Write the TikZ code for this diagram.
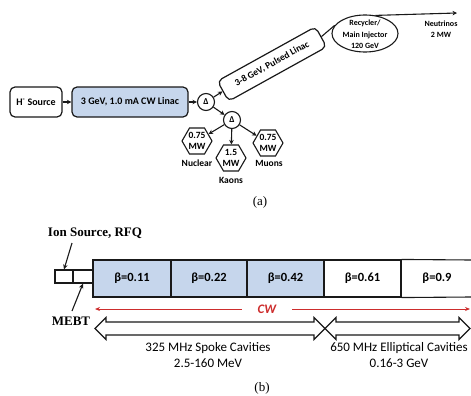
\documentclass[tikz,border=0pt]{standalone}
\usepackage{fontspec}
\setmainfont{Carlito}
\newfontfamily\tnr{Liberation Serif}
\usetikzlibrary{shapes.geometric,arrows.meta}
\definecolor{lblue}{RGB}{198,214,236}
\definecolor{cwred}{RGB}{205,45,45}
\definecolor{ink}{RGB}{25,25,25}
\begin{document}
\begin{tikzpicture}[x=1pt,y=-1pt,
  box/.style={draw=ink,line width=1.2pt,rounded corners=5pt,minimum height=30pt,inner sep=0pt,font=\fontsize{10}{12}\selectfont\bfseries},
  arr/.style={draw=ink,line width=1.1pt,-{Stealth[length=4.5pt,width=4.5pt]}},
  dnode/.style={circle,draw=ink,line width=1.1pt,minimum size=17pt,inner sep=0pt,font=\fontsize{9}{10}\selectfont\bfseries},
  hexa/.style={regular polygon,regular polygon sides=6,draw=ink,line width=1.1pt,minimum size=30pt,inner sep=0pt},
  lbl/.style={align=center,inner sep=0pt,font=\fontsize{9.5}{11}\selectfont\bfseries},
  small/.style={align=center,inner sep=0pt,font=\fontsize{8}{11.5}\selectfont\bfseries},
  cell/.style={draw=ink,line width=1.1pt,minimum height=37pt,inner sep=0pt,font=\fontsize{12.5}{14}\selectfont\bfseries},
  sbox/.style={draw=ink,line width=1.1pt,minimum height=13pt,inner sep=0pt},
  serif/.style={inner sep=0pt,font=\fontsize{13}{15}\selectfont\tnr\bfseries},
  capt/.style={inner sep=0pt,font=\fontsize{13}{15}\selectfont\tnr},
  sub/.style={align=center,inner sep=0pt,font=\fontsize{13}{16}\selectfont},
  barr/.style={draw=ink,line width=1.1pt,-{Stealth[length=5pt,width=4.5pt]}},
  redarr/.style={draw=cwred,line width=0.9pt,-{Stealth[length=5pt,width=4pt]}},
  blk/.style={draw=ink,line width=1.1pt,fill=white,line join=miter}
]
\useasboundingbox (0,0) rectangle (471,396);

% ---------- (a) ----------
\node[box,minimum width=52pt] (hs) at (36,102) {H\textsuperscript{-} Source};
\node[box,fill=lblue,minimum width=116pt] (cw) at (130,102) {3 GeV, 1.0 mA CW Linac};
\node[dnode] (d1) at (206,102) {Δ};
\node[dnode] (d2) at (232,120) {Δ};
\node[box,fill=white,minimum width=112pt,minimum height=23pt,rotate=29,font=\fontsize{9.5}{11}\selectfont\bfseries] (pl) at (272,64) {3-8 GeV, Pulsed Linac};
\node[ellipse,draw=ink,line width=1.1pt,minimum width=66pt,minimum height=37pt,inner sep=0pt] (ell) at (365,33.5) {};
\node[small] (ellt) at (365,34.5) {Recycler/\\Main Injector\\120 GeV};
\coordinate (nuend) at (457,13);
\node[small] (nu) at (441,29) {Neutrinos\\2 MW};

\node[hexa] (nuc) at (197,141) {};
\node[hexa] (kao) at (231,158) {};
\node[hexa] (muo) at (268,143) {};
\node[lbl] (nuct) at (197,141) {0.75\\MW};
\node[lbl] (kaot) at (231,158) {1.5\\MW};
\node[lbl] (muot) at (268,143) {0.75\\MW};
\node[lbl] (nucl) at (197,163) {Nuclear};
\node[lbl] (kaol) at (231,180) {Kaons};
\node[lbl] (muol) at (269,163) {Muons};

\draw[arr] (hs) -- (cw);
\draw[arr] (cw) -- (d1);
\draw[arr] (d1) -- (pl.west);
\draw[arr] (d1) -- (d2);
\draw[arr] (d2) -- (nuc);
\draw[arr] (d2) -- (kao);
\draw[arr] (d2) -- (muo);
\draw[ink,line width=1.1pt] (pl.east) -- (ell.165);
\draw[arr] (ell.60) -- (nuend);

\node[capt] (capa) at (260,202) {(a)};

% ---------- (b) ----------
\node[serif] (ion) at (95,233) {Ion Source, RFQ};
\node[sbox,minimum width=18pt] (b1) at (64,276.5) {};
\node[sbox,minimum width=20pt] (b2) at (83,276.5) {};
\node[cell,fill=lblue,minimum width=78pt] (c1) at (132,278.5) {β=0.11};
\node[cell,fill=lblue,minimum width=76pt] (c2) at (209,278.5) {β=0.22};
\node[cell,fill=lblue,minimum width=77pt] (c3) at (285.5,278.5) {β=0.42};
\node[cell,minimum width=77pt] (c4) at (362.5,278.5) {β=0.61};
\node[inner sep=0pt,font=\fontsize{12.5}{14}\selectfont\bfseries] (c5) at (437,278.5) {β=0.9};
\draw[ink,line width=1.1pt] (c4.north east) -- (471,260) (c4.south east) -- (471,297);

\node[serif] (mebt) at (71,321) {MEBT};
\coordinate (ia) at (72,243);
\coordinate (ma) at (72,311);
\draw[barr] (ia) -- (b1.north);
\draw[barr] (ma) -- (b2.south);

\node[inner sep=0pt,text=cwred,font=\fontsize{13}{15}\selectfont\bfseries\itshape] (cwl) at (267,309) {CW};
\coordinate (rl) at (95,309);
\coordinate (rr) at (470,309);
\draw[redarr] ([xshift=-16pt]cwl.west) -- (rl);
\draw[redarr] ([xshift=16pt]cwl.east) -- (rr);

\draw[blk] (95,328.5) -- (106,317.5) -- (106,322) -- (314,322) -- (314,317.5) -- (325,328.5) -- (314,339.5) -- (314,335) -- (106,335) -- (106,339.5) -- cycle;
\draw[blk] (325,328.5) -- (336,317.5) -- (336,322) -- (459,322) -- (459,317.5) -- (470,328.5) -- (459,339.5) -- (459,335) -- (336,335) -- (336,339.5) -- cycle;

\node[sub] (spk) at (208,355) {325 MHz Spoke Cavities\\2.5-160 MeV};
\node[sub] (ellc) at (399,355) {650 MHz Elliptical Cavities\\0.16-3 GeV};

\node[capt] (capb) at (262,388) {(b)};
\end{tikzpicture}
\end{document}
